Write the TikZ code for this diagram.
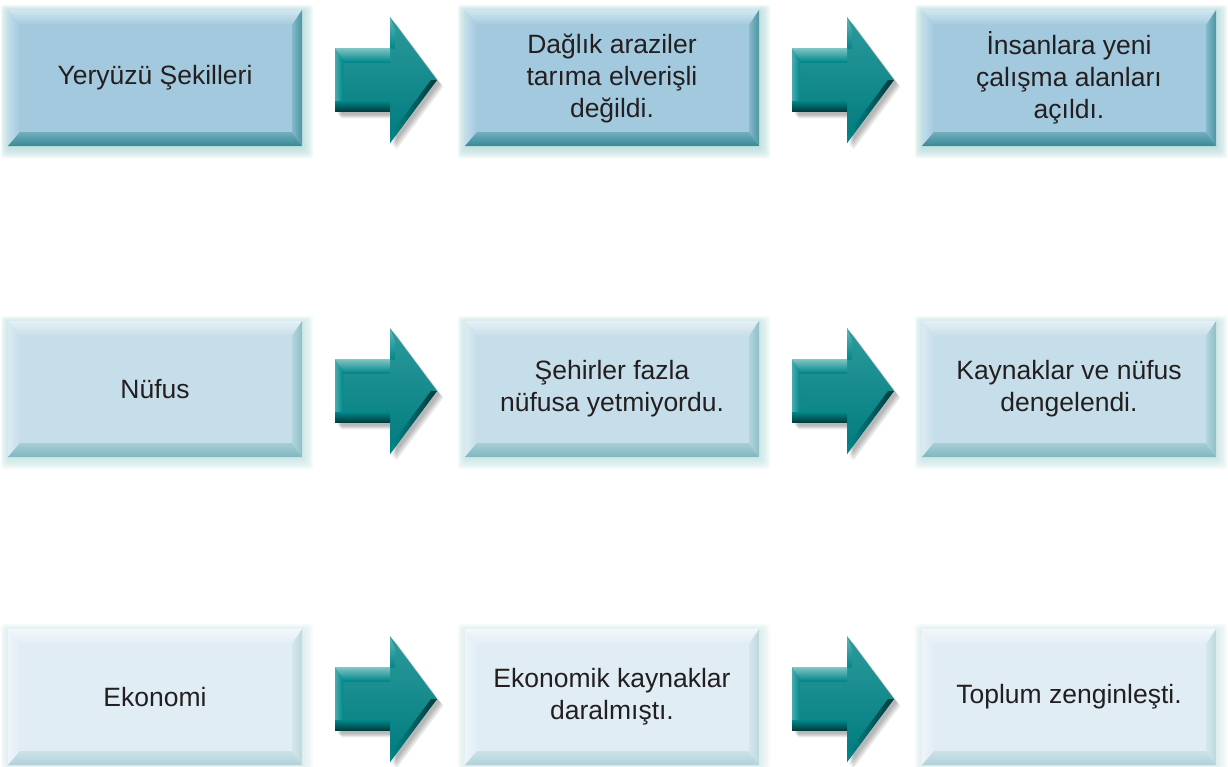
\documentclass[tikz,border=0pt]{standalone}
\usepackage{fontspec}
\setmainfont{Liberation Sans}
\usetikzlibrary{calc}
\definecolor{txt}{HTML}{231F20}
\definecolor{fA}{HTML}{A3C9DF}\definecolor{lA}{HTML}{D2E7F0}\definecolor{dA}{HTML}{368A95}\definecolor{rA}{HTML}{4A97A1}\definecolor{gA}{HTML}{9FD0D0}
\definecolor{fB}{HTML}{C6DEEA}\definecolor{lB}{HTML}{E6F1F6}\definecolor{dB}{HTML}{7FB7BF}\definecolor{rB}{HTML}{8DC0C6}\definecolor{gB}{HTML}{B5DCDC}
\definecolor{fC}{HTML}{E1EDF5}\definecolor{lC}{HTML}{F3F8FB}\definecolor{dC}{HTML}{B0D2D8}\definecolor{rC}{HTML}{BCD9DE}\definecolor{gC}{HTML}{CFE7E7}
\definecolor{tealM}{HTML}{00878A}\definecolor{tealL}{HTML}{7CC3C3}\definecolor{tealT}{HTML}{2B9A9C}\definecolor{tealD}{HTML}{00393B}
\tikzset{
  boxst/.style={rectangle, minimum width=294pt, minimum height=136pt, inner sep=0pt,
    align=center, text=txt, font=\fontsize{26.5}{32}\selectfont}
}
\newcommand\mybox[5]{%
  \foreach \g in {1,...,6}{%
    \fill[g#4, opacity=0.13, rounded corners=3pt]
      ($(#2,#3)+(-147-\g*1.2,-68-\g*1.0+1)$) rectangle ($(#2,#3)+(147+\g*1.7+1,68+\g*1.7+2)$);}
  \node[boxst, fill=f#4] (#1) at (#2,#3) {};
  \shade[top color=l#4, bottom color=f#4] (#1.north west) -- (#1.north east) -- ($(#1.north east)+(-10,15)$) -- ($(#1.north west)+(12,15)$) -- cycle;
  \shade[left color=l#4!70!f#4, right color=f#4] (#1.north west) -- ($(#1.north west)+(12,15)$) -- ($(#1.south west)+(12,-14)$) -- (#1.south west) -- cycle;
  \shade[top color=d#4!45!f#4, bottom color=d#4] (#1.south west) -- (#1.south east) -- ($(#1.south east)+(-10,-14)$) -- ($(#1.south west)+(12,-14)$) -- cycle;
  \shade[left color=r#4!35!f#4, right color=r#4] (#1.north east) -- ($(#1.north east)+(-10,15)$) -- ($(#1.south east)+(-10,-14)$) -- (#1.south east) -- cycle;
  \node[boxst] (#1t) at (#1) {#5};
}
\newcommand\arrowpath{(-51,-31.5) -- (4,-31.5) -- (4,-63) -- (51,0) -- (4,63) -- (4,31.5) -- (-51,31.5) -- cycle}
\newcommand\myarrow[3]{%
  \coordinate (#1) at ($(#2.east)!0.5!(#3.west)+(2.5,2)$);
  \foreach \s in {1,...,4}{%
    \fill[black, opacity=0.08, shift={($(#1)+(1.5+\s*1.2,2+\s*1.2)$)}] \arrowpath;}
  \shade[shift={(#1)}, shading=axis, top color=tealT, middle color=tealM, bottom color=tealM!85!tealD] \arrowpath;
  \shade[shift={(#1)}, top color=tealL, bottom color=tealM] (-51,-31.5) -- (4,-31.5) -- (4,-18) -- (-51,-18) -- cycle;
  \shade[shift={(#1)}, left color=tealL!60!tealM, right color=tealM] (-51,-31.5) -- (-43,-20) -- (-43,20) -- (-51,31.5) -- cycle;
  \shade[shift={(#1)}, top color=tealM, bottom color=tealD] (-51,21) -- (4,21) -- (4,31.5) -- (-51,31.5) -- cycle;
  \shade[shift={(#1)}, top color=tealL!80!tealM, bottom color=tealM] (4,-63) -- (9,-50) -- (9,-31.5) -- (4,-31.5) -- cycle;
  \shade[shift={(#1)}, left color=tealM, right color=tealD] (51,0) -- (4,63) -- (4,55) -- (45,0) -- cycle;
}
\begin{document}
\begin{tikzpicture}[x=1pt, y=-1pt]
\useasboundingbox (0,0) rectangle (1228,766);
\fill[white] (0,0) rectangle (1228,766);
% row 1
\mybox{b11}{155}{78}{A}{Yeryüzü Şekilleri}
\mybox{b12}{612}{78}{A}{Dağlık araziler\\tarıma elverişli\\değildi.}
\mybox{b13}{1069}{78}{A}{İnsanlara yeni\\çalışma alanları\\açıldı.}
% row 2
\mybox{b21}{155}{389}{B}{Nüfus}
\mybox{b22}{612}{389}{B}{Şehirler fazla\\nüfusa yetmiyordu.}
\mybox{b23}{1069}{389}{B}{Kaynaklar ve nüfus\\dengelendi.}
% row 3
\mybox{b31}{155}{697}{C}{Ekonomi}
\mybox{b32}{612}{697}{C}{Ekonomik kaynaklar\\daralmıştı.}
\mybox{b33}{1069}{697}{C}{Toplum zenginleşti.}
% arrows
\myarrow{a11}{b11}{b12}
\myarrow{a12}{b12}{b13}
\myarrow{a21}{b21}{b22}
\myarrow{a22}{b22}{b23}
\myarrow{a31}{b31}{b32}
\myarrow{a32}{b32}{b33}
\end{tikzpicture}
\end{document}
